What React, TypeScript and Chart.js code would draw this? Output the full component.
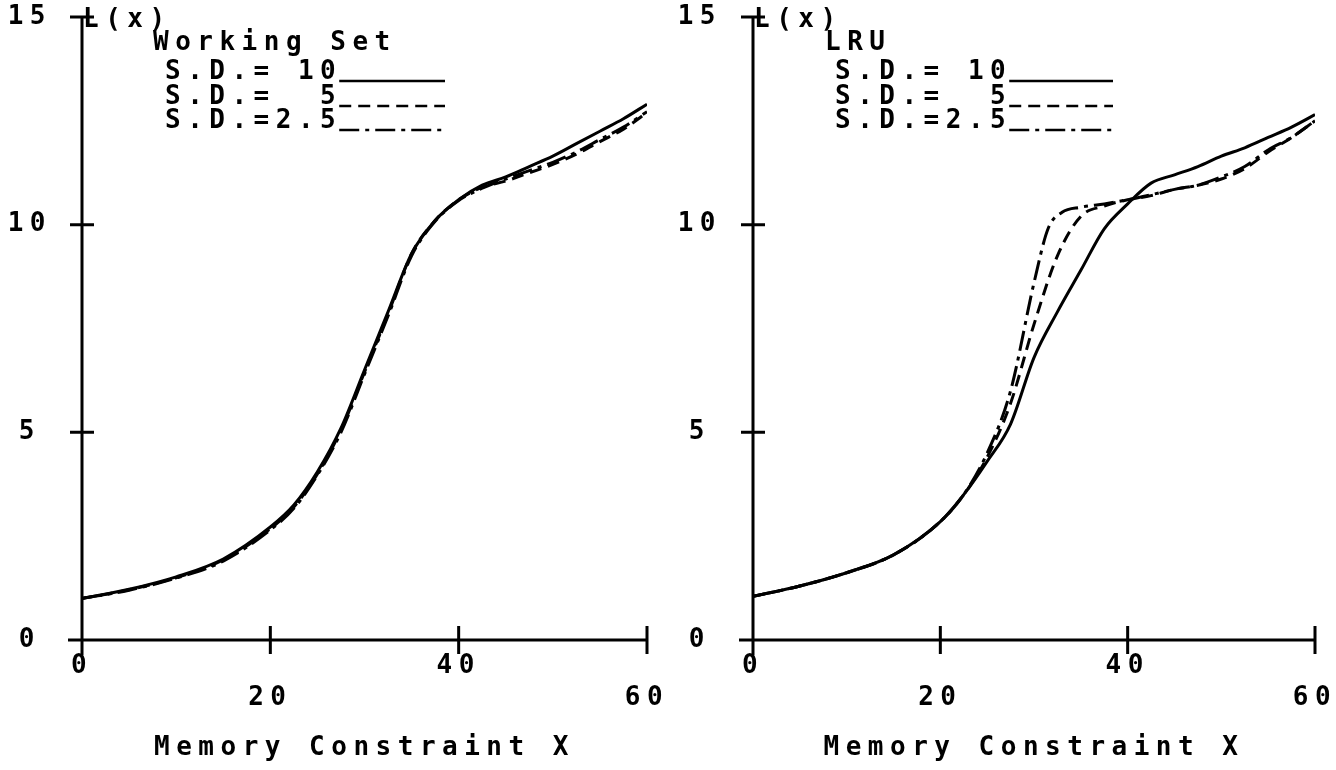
import React, { useEffect, useRef } from "react";
import { Chart, registerables } from "chart.js";

Chart.register(...registerables);

// ---- shared axis data ----
const xTicks = [0, 20, 40, 60];
const xTickLabels = ["0", "20", "40", "60"];
const yTicks = [0, 5, 10, 15];
const yTickLabels = ["0", "5", "10", "15"];
const xAxisTitle = "Memory Constraint X";
const yAxisLabel = "L(x)";
const seriesLabels = ["S.D.= 10", "S.D.=  5", "S.D.=2.5"];

// ---- Working Set panel ----
const wsTitle = "Working Set";
const wsX = [0, 5, 10, 15, 20, 22.5, 25, 27.5, 30, 32.5, 35, 37.5, 40, 42.5, 45, 47.5, 50, 52.5, 55, 57.5, 60];
const wsSD10 = [1.0, 1.22, 1.52, 1.95, 2.72, 3.25, 4.05, 5.1, 6.5, 7.9, 9.3, 10.1, 10.6, 10.95, 11.15, 11.4, 11.65, 11.95, 12.25, 12.55, 12.9];
const wsSD5 = [1.0, 1.21, 1.5, 1.93, 2.68, 3.2, 4.0, 5.05, 6.45, 7.85, 9.3, 10.1, 10.6, 10.9, 11.05, 11.25, 11.45, 11.7, 12.0, 12.3, 12.7];
const wsSD25 = [1.0, 1.2, 1.49, 1.9, 2.65, 3.17, 3.97, 5.0, 6.4, 7.8, 9.25, 10.08, 10.58, 10.88, 11.1, 11.3, 11.5, 11.75, 12.05, 12.35, 12.72];

// ---- LRU panel ----
const lruTitle = "LRU";
const lruX = [0, 5, 10, 15, 20, 22.5, 25, 27.5, 30, 32.5, 35, 37.5, 40, 42.5, 45, 47.5, 50, 52.5, 55, 57.5, 60];
const lruSD10 = [1.05, 1.3, 1.62, 2.05, 2.85, 3.5, 4.3, 5.2, 6.8, 7.9, 8.9, 9.9, 10.5, 11.0, 11.2, 11.4, 11.65, 11.85, 12.1, 12.35, 12.65];
const lruSD5 = [1.05, 1.3, 1.62, 2.05, 2.85, 3.5, 4.4, 5.7, 7.6, 9.25, 10.2, 10.45, 10.6, 10.7, 10.85, 10.95, 11.1, 11.35, 11.75, 12.1, 12.5];
const lruX25 = [0, 5, 10, 15, 20, 22.5, 25, 27.5, 30, 31.5, 33, 35, 37.5, 40, 42.5, 45, 47.5, 50, 52.5, 55, 57.5, 60];
const lruSD25 = [1.05, 1.3, 1.62, 2.05, 2.85, 3.5, 4.5, 6.0, 8.6, 9.9, 10.3, 10.42, 10.5, 10.6, 10.72, 10.85, 10.95, 11.15, 11.4, 11.8, 12.1, 12.5];

const dashes = [[], [12, 7], [20, 6, 4, 6]];
const FONT_FAMILY = '"DejaVu Sans Mono", monospace';
const FONT_SIZE = 26;
const SPACING = "6.5px";

type PanelCfg = {
  title: string;
  series: { xs: number[]; ys: number[] }[];
  width: number;
  yAxisWidth: number;
  rightPad: number;
  yLabelPad: number;
  legendTitleX: number;
  legendRowX: number;
  legendLineEnd: number;
};

const pts = (xs: number[], ys: number[]) => xs.map((x, i) => ({ x, y: ys[i] }));

const plotterPlugin = {
  id: "plotter",
  beforeUpdate(chart: any) {
    chart.ctx.letterSpacing = SPACING;
  },
  beforeDraw(chart: any) {
    chart.ctx.letterSpacing = SPACING;
  },
  afterDraw(chart: any, _a: any, opts: any) {
    const { ctx } = chart;
    const xs = chart.scales.x;
    const ys = chart.scales.y;
    const x0 = xs.getPixelForValue(0);
    const xM = xs.getPixelForValue(60);
    const y0 = ys.getPixelForValue(0);
    const yM = ys.getPixelForValue(15);
    ctx.save();
    ctx.letterSpacing = SPACING;
    ctx.strokeStyle = "#000";
    ctx.lineWidth = 3;
    ctx.setLineDash([]);
    ctx.beginPath();
    ctx.moveTo(x0, y0 + 15);
    ctx.lineTo(x0, yM);
    ctx.moveTo(x0 - 14, y0);
    ctx.lineTo(xM, y0);
    xTicks.forEach((t) => {
      const p = xs.getPixelForValue(t);
      ctx.moveTo(p, y0 - 14);
      ctx.lineTo(p, y0 + 14);
    });
    yTicks.slice(1).forEach((t) => {
      const p = ys.getPixelForValue(t);
      ctx.moveTo(x0 - 12, p);
      ctx.lineTo(x0 + 12, p);
    });
    ctx.stroke();

    ctx.fillStyle = "#000";
    ctx.font = `bold ${FONT_SIZE}px ${FONT_FAMILY}`;
    ctx.textBaseline = "middle";
    ctx.textAlign = "left";
    ctx.fillText(yAxisLabel, x0 + 1, yM + 3);

    ctx.fillText(opts.title, opts.legendTitleX, 43);
    const rowY = [72, 97, 121];
    seriesLabels.forEach((lab, i) => {
      ctx.fillText(lab, opts.legendRowX, rowY[i]);
      const w = ctx.measureText(lab).width;
      ctx.setLineDash(dashes[i]);
      ctx.lineWidth = 2.5;
      ctx.beginPath();
      ctx.moveTo(opts.legendRowX + w - 3, rowY[i] + 9);
      ctx.lineTo(opts.legendLineEnd, rowY[i] + 9);
      ctx.stroke();
    });
    ctx.restore();
  },
};

function Panel({ cfg }: { cfg: PanelCfg }) {
  const ref = useRef<HTMLCanvasElement | null>(null);
  useEffect(() => {
    if (!ref.current) return;
    const font = { family: FONT_FAMILY, size: FONT_SIZE, weight: "bold" as const };
    const chart = new Chart(ref.current, {
      type: "line",
      data: {
        datasets: cfg.series.map((s, i) => ({
          label: seriesLabels[i],
          data: pts(s.xs, s.ys),
          borderColor: "#000",
          borderWidth: 3,
          borderDash: dashes[i],
          pointRadius: 0,
          fill: false,
          cubicInterpolationMode: "monotone" as const,
        })),
      },
      options: {
        responsive: false,
        animation: false,
        devicePixelRatio: 1,
        layout: { padding: { top: 17, right: cfg.rightPad, bottom: 0, left: 0 } },
        plugins: {
          legend: { display: false },
          tooltip: { enabled: false },
          plotter: {
            title: cfg.title,
            legendTitleX: cfg.legendTitleX,
            legendRowX: cfg.legendRowX,
            legendLineEnd: cfg.legendLineEnd,
          },
        } as any,
        scales: {
          x: {
            type: "linear",
            min: 0,
            max: 60,
            afterBuildTicks: (s: any) => {
              s.ticks = xTicks.map((v) => ({ value: v }));
            },
            afterFit: (s: any) => {
              s.height = 130;
              s.paddingLeft = 0;
              s.paddingRight = 0;
            },
            grid: { display: false, drawTicks: false },
            border: { display: false },
            ticks: {
              color: "#000",
              font,
              padding: 11,
              maxRotation: 0,
              autoSkip: false,
              callback: (_v: any, i: number) => (i % 2 === 1 ? ["", xTickLabels[i]] : xTickLabels[i]),
            },
            title: {
              display: true,
              text: xAxisTitle,
              color: "#000",
              font,
              padding: { top: 0, bottom: 6 },
            },
          },
          y: {
            type: "linear",
            min: 0,
            max: 15,
            afterBuildTicks: (s: any) => {
              s.ticks = yTicks.map((v) => ({ value: v }));
            },
            afterFit: (s: any) => {
              s.width = cfg.yAxisWidth;
              s.paddingTop = 0;
              s.paddingBottom = 0;
            },
            grid: { display: false, drawTicks: false },
            border: { display: false },
            ticks: {
              color: "#000",
              font,
              padding: cfg.yLabelPad,
              crossAlign: "center",
              callback: (_v: any, i: number) => yTickLabels[i],
            },
          },
        },
      } as any,
      plugins: [plotterPlugin],
    });
    return () => chart.destroy();
  }, [cfg]);
  return <canvas ref={ref} width={cfg.width} height={770} style={{ display: "block" }} />;
}

const leftCfg: PanelCfg = {
  title: wsTitle,
  series: [
    { xs: wsX, ys: wsSD10 },
    { xs: wsX, ys: wsSD5 },
    { xs: wsX, ys: wsSD25 },
  ],
  width: 668,
  yAxisWidth: 82,
  rightPad: 21,
  yLabelPad: 30,
  legendTitleX: 153,
  legendRowX: 165,
  legendLineEnd: 445,
};

const rightCfg: PanelCfg = {
  title: lruTitle,
  series: [
    { xs: lruX, ys: lruSD10 },
    { xs: lruX, ys: lruSD5 },
    { xs: lruX25, ys: lruSD25 },
  ],
  width: 668,
  yAxisWidth: 85,
  rightPad: 21,
  yLabelPad: 31,
  legendTitleX: 157,
  legendRowX: 167,
  legendLineEnd: 445,
};

export default function App() {
  useEffect(() => {
    document.body.style.margin = "0";
  }, []);
  return (
    <div style={{ display: "flex", width: 1336, height: 770, background: "#fff" }}>
      <Panel cfg={leftCfg} />
      <Panel cfg={rightCfg} />
    </div>
  );
}
